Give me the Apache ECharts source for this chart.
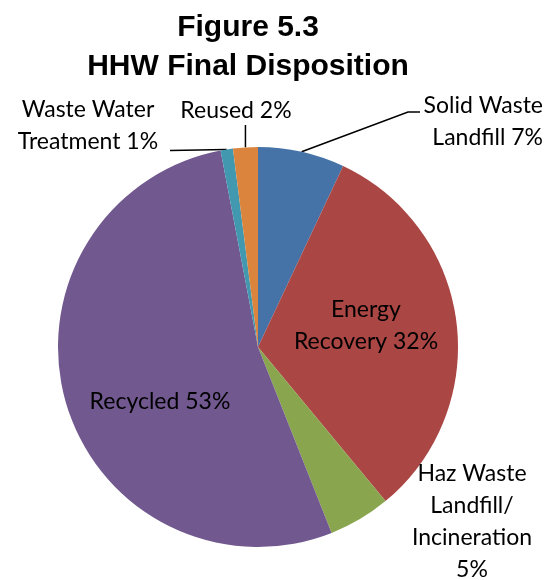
<!DOCTYPE html>
<html><head><meta charset="utf-8">
<script src="https://cdn.jsdelivr.net/npm/echarts@6/dist/echarts.min.js"></script>
<style>html,body{margin:0;padding:0;background:#fff}#c{width:553px;height:580px}</style>
</head><body><div id="c"></div>
<script>
const categories = ['Solid Waste\nLandfill', 'Energy\nRecovery', 'Haz Waste\nLandfill/\nIncineration', 'Recycled', 'Waste Water\nTreatment', 'Reused'];
const values = [7, 32, 5, 53, 1, 2];
const colors = ['#4572A7', '#AA4643', '#89A54E', '#71588F', '#4198AF', '#DB843D'];
const titleLines = ['Figure 5.3', 'HHW Final Disposition'];

// label placement (styling, not data)
const labelPos = [
  {x: 543, y: 122, align: 'right'},
  {x: 366, y: 326, align: 'center'},
  {x: 472, y: 522, align: 'center'},
  {x: 160, y: 402, align: 'center'},
  {x: 88, y: 126, align: 'center'},
  {x: 236, y: 111, align: 'center'}
];
const inside = [false, true, false, true, false, false];
const hasLine = [true, false, false, false, true, true];

const chart = echarts.init(document.getElementById('c'), null, {renderer: 'canvas'});
chart.setOption({
  animation: false,
  title: {
    text: titleLines.join('\n'),
    left: 243, top: 3, textAlign: 'center',
    textStyle: {fontFamily: 'Liberation Sans, Arial', fontWeight: 'bold', fontSize: 30, lineHeight: 39, color: '#000'}
  },
  series: [{
    type: 'pie',
    center: [258, 347],
    radius: 200,
    startAngle: 90,
    clockwise: true,
    avoidLabelOverlap: false,
    itemStyle: {borderWidth: 0},
    data: categories.map((c, i) => ({
      name: c, value: values[i],
      itemStyle: {color: colors[i]},
      label: inside[i] ? {position: 'inside'} : {position: 'outside'},
      labelLine: {show: hasLine[i], lineStyle: {color: '#000', width: 1.5}, length: 20, length2: 5}
    })),
    label: {
      formatter: p => p.name + (p.dataIndex === 2 ? '\n' : ' ') + p.value + '%',
      fontFamily: 'Lato, Carlito, Calibri, sans-serif',
      fontSize: 23, lineHeight: 32, color: '#000'
    },
    labelLayout: p => {
      const i = p.dataIndex;
      const l = labelPos[i];
      const out = {x: l.x, y: l.y, align: l.align, verticalAlign: 'middle'};
      const pts = p.labelLinePoints;
      if (hasLine[i] && pts && pts.length) {
        const s = pts[0];
        if (i === 0) out.labelLinePoints = [s, [408, 112], [420, 112]];
        else if (i === 5) out.labelLinePoints = [s, [s[0], 125], [s[0], 125]];
        else if (i === 4) out.labelLinePoints = [s, [170, s[1] + 1], [170, s[1] + 1]];
      }
      return out;
    }
  }]
});
</script></body></html>
